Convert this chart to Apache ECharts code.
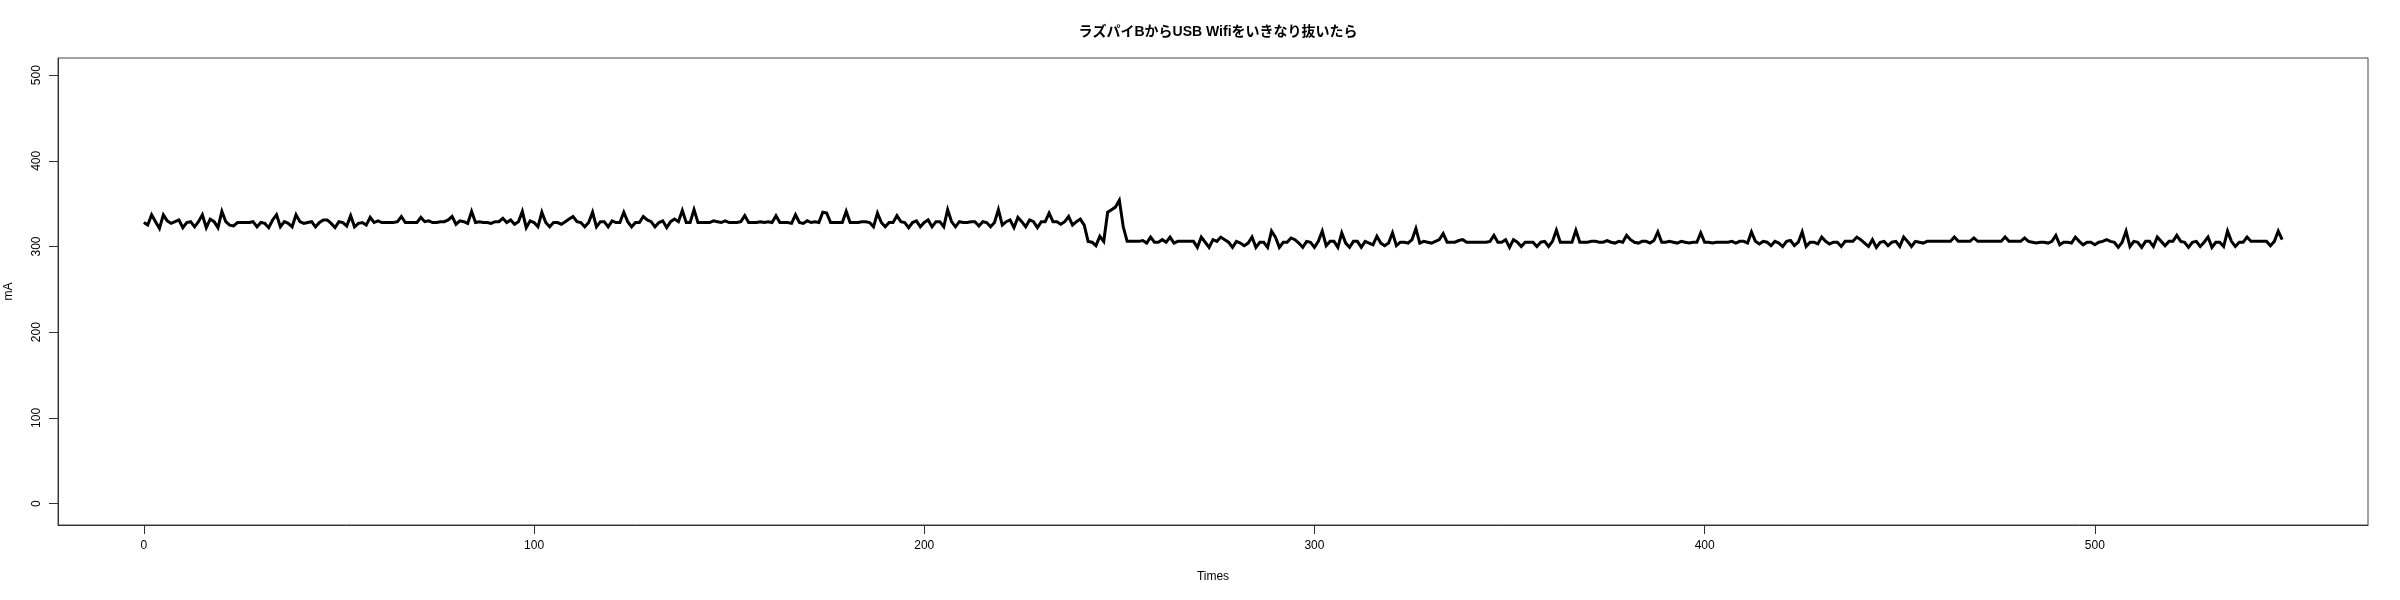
<!DOCTYPE html>
<html>
<head>
<meta charset="utf-8">
<script src="https://cdn.jsdelivr.net/npm/echarts@6/dist/echarts.min.js"></script>
<style>html,body{margin:0;padding:0;background:#fff}#c{width:2400px;height:600px}</style>
</head>
<body>
<div id="c"></div>
<script>
const titleText = 'ラズパイBからUSB Wifiをいきなり抜いたら';
const xName = 'Times';
const yName = 'mA';
const xTicks = [0, 100, 200, 300, 400, 500];
const yTicks = [0, 100, 200, 300, 400, 500];

// current (mA), one value per time step starting at 0
const seg1 = [328,325,337,329,321,337,330,327,329,331,322,328,329,323,329,337,322,332,329,322,341,329,325,324,328,328,328,328,329,323,328,327,322,331,337,323,329,327,323,337,329,327,328,329,323,328,331,331,327,322,329,328,324,336];
const seg2 = [323,327,328,325,334,328,330,328,328,328,328,329,335,328,328,328,328,334,329,330,328,328,329,329,331,335,326,330,329,327,341,328,329,328,328,327,329,329,333,328,331,326,329,341,322,330,328,323,340,328,323,328,328,326,329,332];
const seg3 = [335,329,328,323,328,340,323,329,329,323,330,328,328,340,329,323,328,328,335,331,329,323,328,330,322,329,332,329,342,328,328,343,328,328,328,328,330,329,328,330,328,328,328,329,336,328,328,328,329,328,329,328,336,328,328];
const seg4 = [328,327,337,328,327,330,328,329,328,340,339,328,328,328,328,341,328,328,328,329,329,328,323,339,328,323,328,328,336,329,328,322,328,330,323,328,331,323,329,329,323,343,329,323,329,328,328,329,329,324,329,328,323,328,343];
const seg5 = [325,329,331,322,334,329,323,331,329,322,329,329,339,329,329,326,329,335,325,329,332,325,306,305,301,312,306,340,343,346,354,323,306,306,306,306,307,304,311,305,305,308,305,311,304,306,306,306,306,306,299,311,305,299,308];
const seg6 = [306,311,308,305,299,306,304,301,304,311,299,305,305,299,318,311,299,305,305,310,308,304,299,306,305,299,306,318,301,306,306,299,316,304,299,306,306,299,306,304,302,312,304,301,304,316,301,305,305,304,308,321,304,306,305];
const seg7 = [304,306,308,315,305,305,305,307,308,305,305,305,305,305,305,306,313,305,305,308,299,308,305,300,305,305,305,300,305,306,300,306,319,305,305,305,305,319,305,305,305,306,306,305,305,307,305,304,306,305,313,308,305,304,306];
const seg8 = [306,304,307,317,305,305,306,305,304,306,305,304,305,305,316,305,305,304,305,305,305,305,306,304,306,306,304,317,306,303,306,305,301,306,304,300,306,307,301,305,317,300,305,305,303,311,306,303,305,305,300,306,306,306,311];
const seg9 = [308,304,300,308,299,305,306,301,305,306,300,311,306,300,306,305,304,306,306,306,306,306,306,306,311,306,306,306,306,310,306,306,306,306,306,306,306,311,306,306,306,306,310,306,305,304,305,305,304,306,313,302,305,305,304];
const seg10 = [311,306,302,305,305,302,305,306,308,306,305,299,305,318,300,306,305,299,306,306,300,311,306,301,306,306,313,306,305,299,305,306,300,305,311,299,305,305,300,318,306,300,305,305,311,306,306,306,306,306,301,306,318,308];

const values = [].concat(seg1, seg2, seg3, seg4, seg5, seg6, seg7, seg8, seg9, seg10);
const seriesData = values.map((v, i) => [i, v]);

const FONT = '"Liberation Sans", "Noto Sans CJK JP", sans-serif';
const chart = echarts.init(document.getElementById('c'), null, {renderer: 'canvas'});
chart.setOption({
  animation: false,
  backgroundColor: '#fff',
  title: {
    text: titleText,
    left: 1213, top: 20, textAlign: 'center',
    textStyle: {fontFamily: FONT, fontSize: 14, fontWeight: 'bold', color: '#000'}
  },
  grid: {
    left: 58, right: 32, top: 58, bottom: 75,
    containLabel: false, outerBoundsMode: 'none',
    show: true, borderColor: '#444', borderWidth: 1, backgroundColor: 'transparent'
  },
  xAxis: {
    type: 'value', min: -22, max: 570,
    name: xName, nameLocation: 'middle', nameGap: 46,
    nameTextStyle: {fontFamily: FONT, fontSize: 12, color: '#000'},
    axisLine: {show: true, onZero: false, lineStyle: {color: '#333', width: 1}},
    axisTick: {show: true, length: 9, customValues: xTicks, lineStyle: {color: '#333'}},
    axisLabel: {customValues: xTicks, margin: 15, fontFamily: FONT, fontSize: 12, color: '#000'},
    splitLine: {show: false}
  },
  yAxis: {
    type: 'value', min: -25, max: 520,
    name: yName, nameLocation: 'middle', nameGap: 43, nameRotate: 90,
    nameTextStyle: {fontFamily: FONT, fontSize: 12, color: '#000'},
    axisLine: {show: true, onZero: false, lineStyle: {color: '#333', width: 1}},
    axisTick: {show: true, length: 9, customValues: yTicks, lineStyle: {color: '#333'}},
    axisLabel: {customValues: yTicks, rotate: 90, margin: 15, fontFamily: FONT, fontSize: 12, color: '#000'},
    splitLine: {show: false}
  },
  series: [{
    type: 'line', data: seriesData, showSymbol: false, symbol: 'none',
    lineStyle: {color: '#000', width: 3, join: 'miter'},
    silent: true
  }]
});
</script>
</body>
</html>
